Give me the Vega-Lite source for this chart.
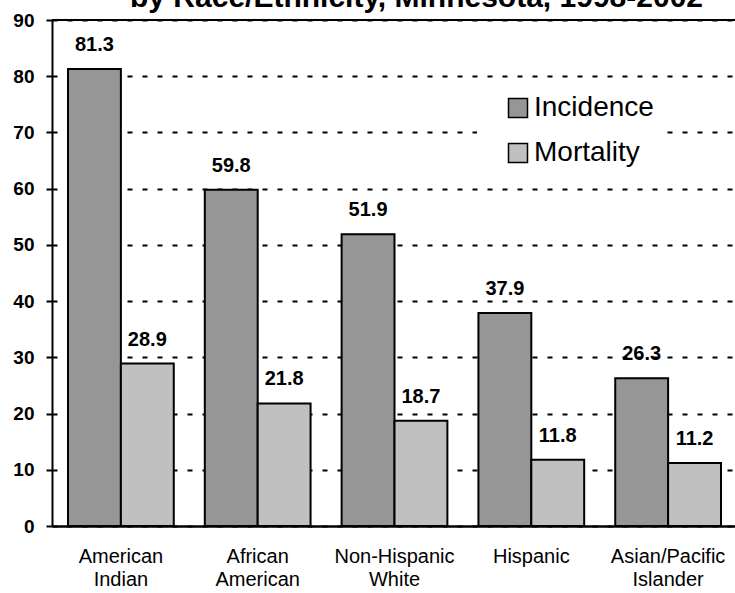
{
  "$schema": "https://vega.github.io/schema/vega-lite/v6.json",
  "width": 685,
  "height": 506,
  "autosize": {"type": "none"},
  "padding": {"left": 52, "top": 20, "right": 0, "bottom": 67},
  "background": "white",
  "title": {
    "text": "by Race/Ethnicity, Minnesota, 1998-2002",
    "font": "Liberation Sans",
    "fontSize": 30,
    "fontWeight": "bold",
    "color": "black",
    "anchor": "middle",
    "dx": 22,
    "offset": -2
  },
  "config": {
    "view": {"stroke": null},
    "font": "Liberation Sans"
  },
  "data": {
    "values": [
      {"group": "American Indian", "measure": "Incidence", "value": 81.3},
      {"group": "American Indian", "measure": "Mortality", "value": 28.9},
      {"group": "African American", "measure": "Incidence", "value": 59.8},
      {"group": "African American", "measure": "Mortality", "value": 21.8},
      {"group": "Non-Hispanic White", "measure": "Incidence", "value": 51.9},
      {"group": "Non-Hispanic White", "measure": "Mortality", "value": 18.7},
      {"group": "Hispanic", "measure": "Incidence", "value": 37.9},
      {"group": "Hispanic", "measure": "Mortality", "value": 11.8},
      {"group": "Asian/Pacific Islander", "measure": "Incidence", "value": 26.3},
      {"group": "Asian/Pacific Islander", "measure": "Mortality", "value": 11.2}
    ]
  },
  "encoding": {
    "x": {
      "field": "group",
      "type": "nominal",
      "sort": null,
      "scale": {"paddingInner": 0.227, "paddingOuter": 0.117},
      "axis": {
        "title": null,
        "labelAngle": 0,
        "labelExpr": "split(datum.label, ' ')",
        "labelFont": "Liberation Sans",
        "labelFontSize": 20,
        "labelColor": "black",
        "labelLineHeight": 23.5,
        "labelPadding": 20,
        "labelLimit": 300,
        "ticks": false,
        "domainColor": "black",
        "domainWidth": 2.5
      }
    },
    "xOffset": {"field": "measure", "sort": ["Incidence", "Mortality"]},
    "y": {
      "field": "value",
      "type": "quantitative",
      "scale": {"domain": [0, 90], "nice": false},
      "axis": {
        "title": null,
        "values": [0, 10, 20, 30, 40, 50, 60, 70, 80, 90],
        "labelFont": "Liberation Sans",
        "labelFontSize": 19,
        "labelFontWeight": "bold",
        "labelColor": "black",
        "labelPadding": 12,
        "tickSize": 6,
        "tickColor": "black",
        "tickWidth": 2,
        "domainColor": "black",
        "domainWidth": 2,
        "grid": true,
        "gridColor": "black",
        "gridWidth": 2,
        "gridDash": [5, 10]
      }
    }
  },
  "layer": [
    {
      "mark": {"type": "bar", "stroke": "black", "strokeWidth": 2},
      "encoding": {
        "color": {
          "field": "measure",
          "type": "nominal",
          "scale": {"domain": ["Incidence", "Mortality"], "range": ["#969696", "#c0c0c0"]},
          "legend": {
            "title": null,
            "orient": "none",
            "legendX": 425,
            "legendY": 62,
            "fillColor": "white",
            "padding": 12,
            "symbolType": "square",
            "symbolSize": 361,
            "symbolStrokeColor": "black",
            "symbolStrokeWidth": 1.5,
            "symbolOpacity": 1,
            "symbolOffset": 15,
            "labelFont": "Liberation Sans",
            "labelFontSize": 28,
            "labelColor": "black",
            "labelOffset": 2,
            "rowPadding": 17
          }
        }
      }
    },
    {
      "mark": {
        "type": "text",
        "font": "Liberation Sans",
        "fontSize": 20,
        "fontWeight": "bold",
        "color": "black",
        "baseline": "alphabetic",
        "dy": -18
      },
      "encoding": {
        "text": {"field": "value", "type": "quantitative", "format": ".1f"}
      }
    },
    {
      "data": {"values": [{"top": 90}]},
      "mark": {"type": "rule", "color": "black", "strokeWidth": 2},
      "encoding": {
        "y": {"field": "top", "type": "quantitative"},
        "x": null,
        "xOffset": null
      }
    }
  ]
}
